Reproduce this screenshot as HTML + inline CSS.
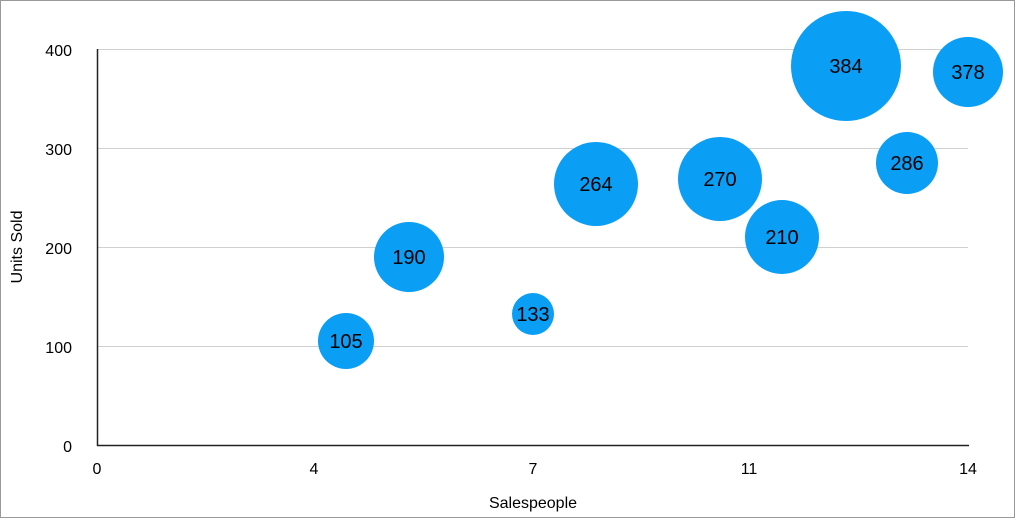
<!DOCTYPE html>
<html><head><style>
html,body{margin:0;padding:0;background:#fff;}
svg{display:block;}
text{font-family:"Liberation Sans",Arial,sans-serif;}
</style></head><body>
<svg width="1015" height="518" viewBox="0 0 1015 518" xmlns="http://www.w3.org/2000/svg">
<rect x="0.5" y="0.5" width="1014" height="517" fill="#fff" stroke="#999" stroke-width="1"/>
<g stroke="#d0d0d0" stroke-width="1">
<line x1="97" y1="49.5" x2="968" y2="49.5"/>
<line x1="97" y1="148.5" x2="968" y2="148.5"/>
<line x1="97" y1="247.5" x2="968" y2="247.5"/>
<line x1="97" y1="346.5" x2="968" y2="346.5"/>
</g>
<line x1="97.5" y1="49" x2="97.5" y2="446" stroke="#222" stroke-width="1.5"/>
<line x1="97" y1="445.5" x2="969" y2="445.5" stroke="#222" stroke-width="1.5"/>
<g font-size="16" fill="#000" text-anchor="end">
<text x="72" y="56">400</text>
<text x="72" y="155">300</text>
<text x="72" y="254">200</text>
<text x="72" y="353">100</text>
<text x="72" y="452">0</text>
</g>
<g font-size="16" fill="#000" text-anchor="middle">
<text x="97" y="474">0</text>
<text x="314" y="474">4</text>
<text x="533" y="474">7</text>
<text x="749" y="474">11</text>
<text x="968" y="474">14</text>
<text x="533" y="508">Salespeople</text>
<text transform="translate(22,247) rotate(-90)">Units Sold</text>
</g>
<g fill="#0a9ef5">
<circle cx="346" cy="341" r="28"/>
<circle cx="409" cy="257" r="35"/>
<circle cx="533" cy="314" r="21"/>
<circle cx="596" cy="184" r="42"/>
<circle cx="720" cy="179" r="42"/>
<circle cx="782" cy="237" r="37"/>
<circle cx="846" cy="66" r="55"/>
<circle cx="907" cy="163" r="31"/>
<circle cx="968" cy="72" r="35"/>
</g>
<g font-size="20" fill="#000" text-anchor="middle">
<text x="346" y="348">105</text>
<text x="409" y="264">190</text>
<text x="533" y="321">133</text>
<text x="596" y="191">264</text>
<text x="720" y="186">270</text>
<text x="782" y="244">210</text>
<text x="846" y="73">384</text>
<text x="907" y="170">286</text>
<text x="968" y="79">378</text>
</g>
</svg>
</body></html>
